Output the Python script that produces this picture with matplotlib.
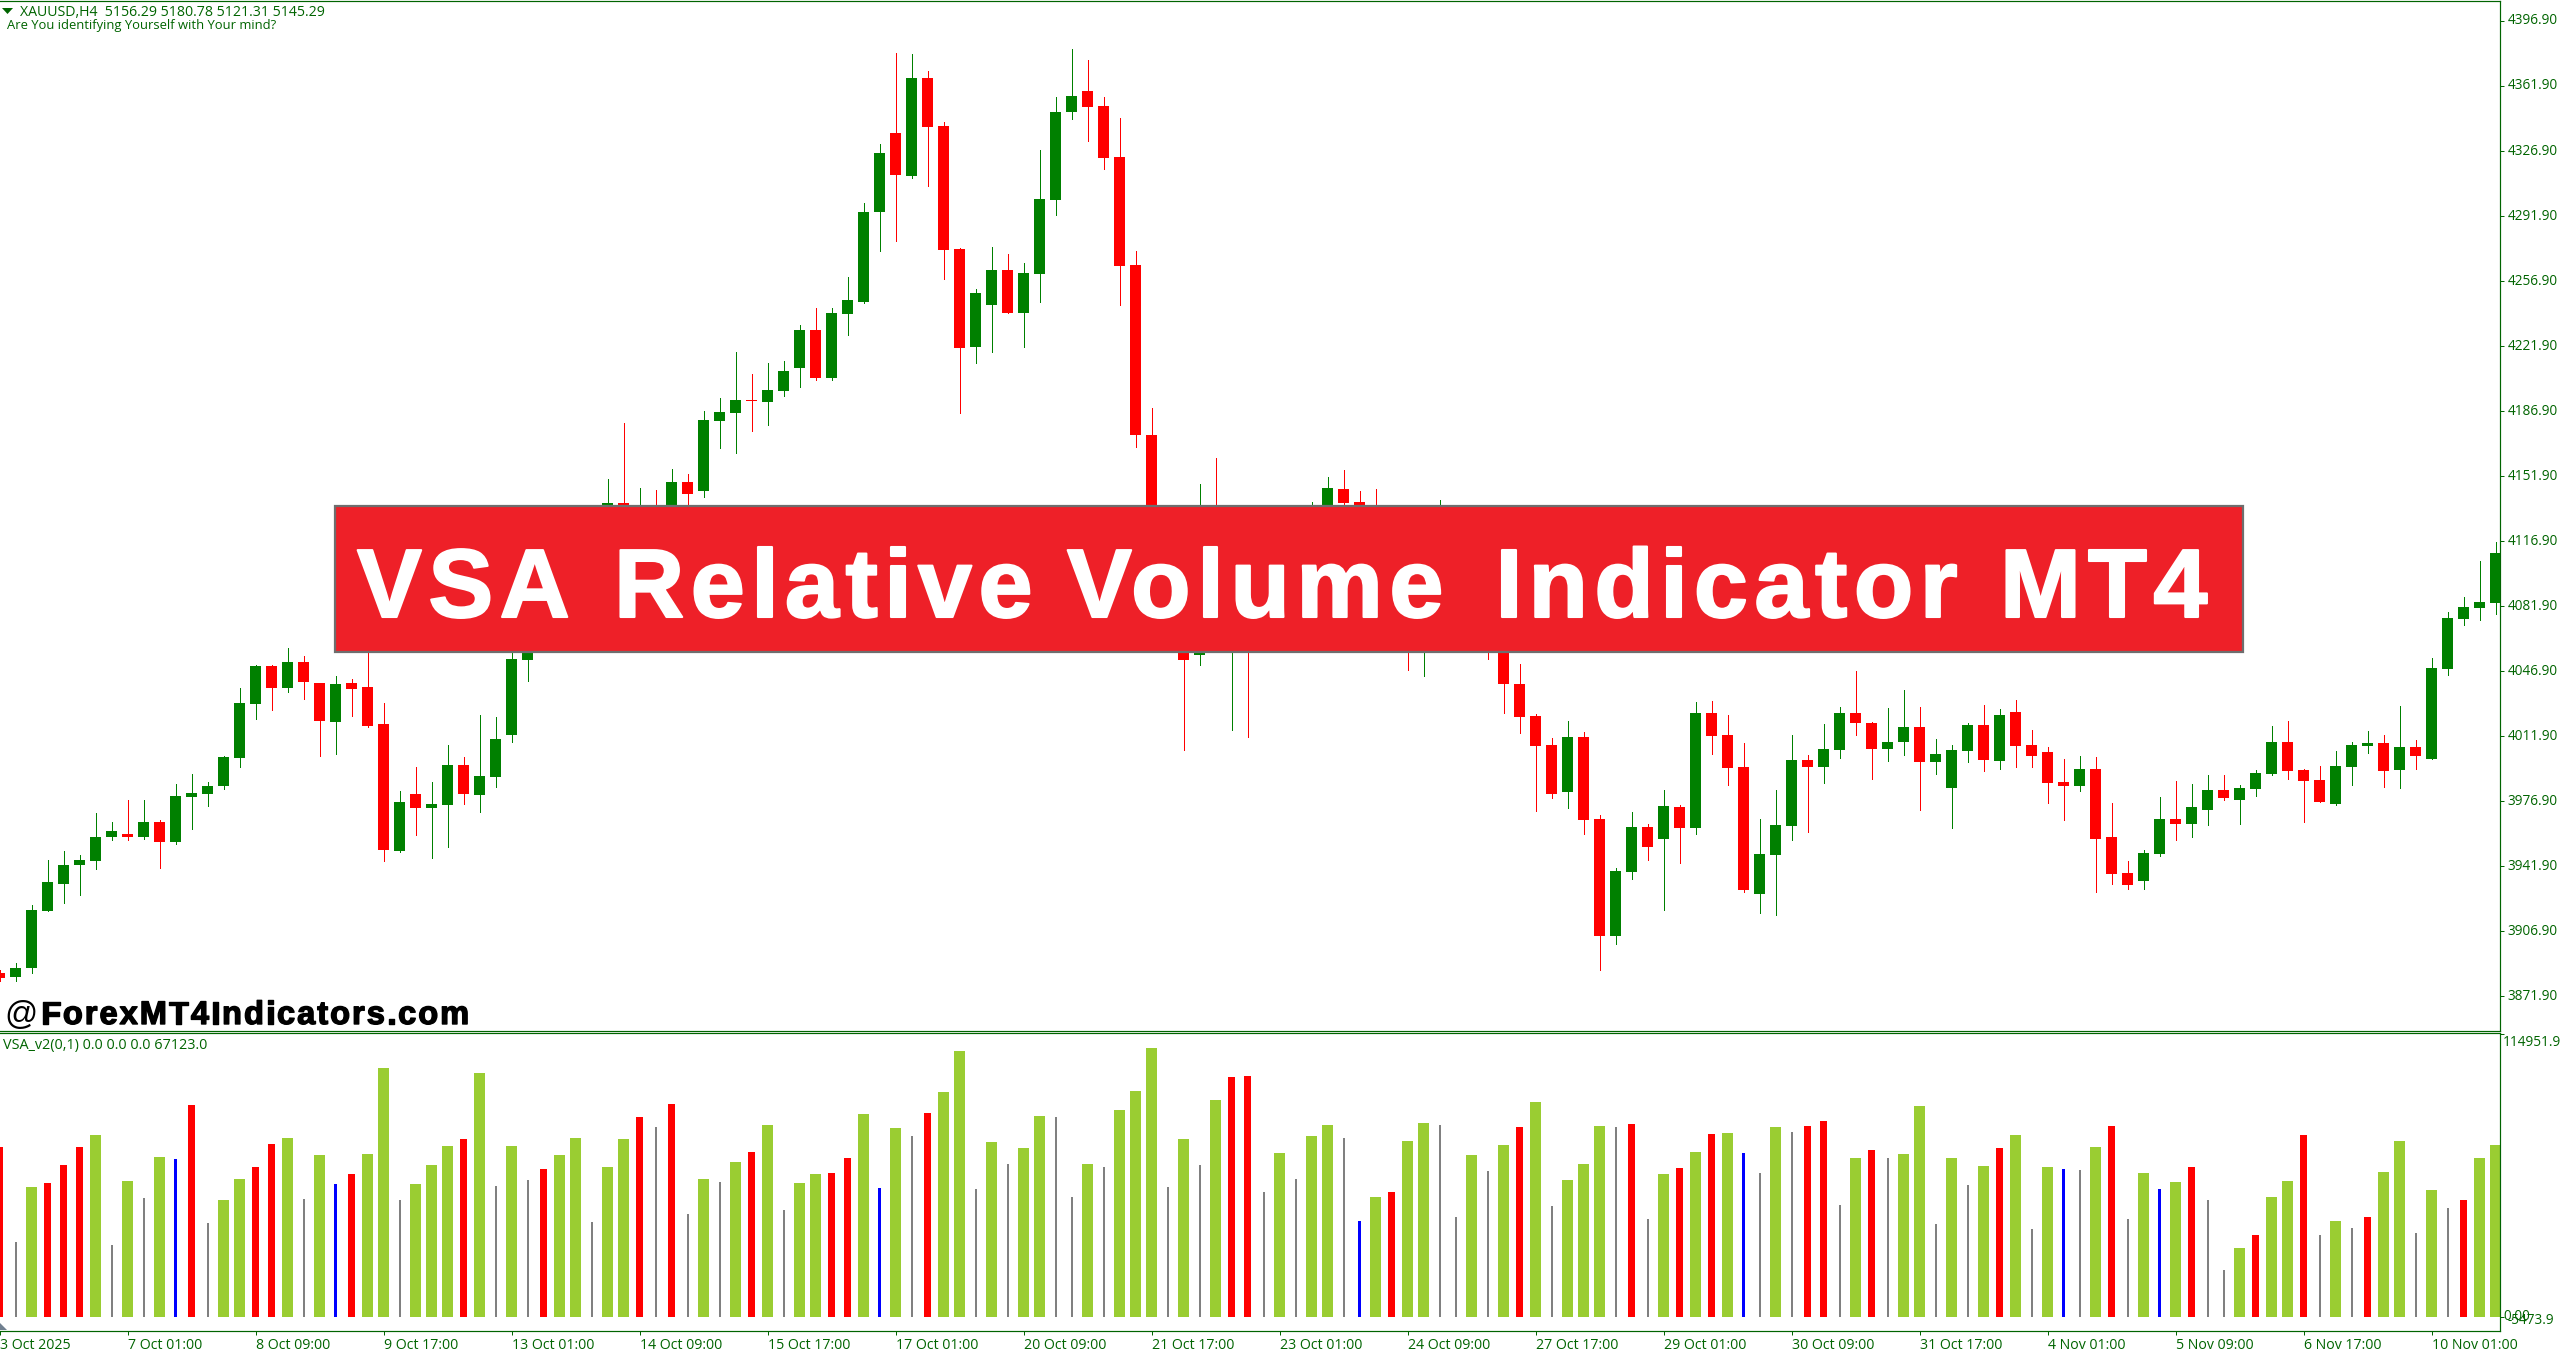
import matplotlib
matplotlib.use("Agg")
import matplotlib.pyplot as plt
import matplotlib.patheffects as pe
from matplotlib.font_manager import FontProperties
from matplotlib.patches import Rectangle, Polygon
import numpy as np

open_ = [3884.3,3882.2,3887.0,3917.7,3932.7,3942.4,3944.6,3958.0,3959.6,3958.0,
3965.6,3954.8,3979.0,3980.7,3985.0,4000.0,4029.1,4049.6,4037.7,4051.7,
4040.4,4019.5,4040.4,4038.3,4018.4,3950.0,3980.7,3973.1,3974.7,3996.3,
3980.1,3989.8,4012.4,4052.8,4079.7,4095.9,4106.7,4125.5,4122.8,4137.4,
4123.9,4132.5,4130.9,4148.7,4143.8,4181.5,4185.8,4192.8,4191.7,4197.7,
4210.1,4230.5,4204.7,4239.1,4245.6,4294.0,4336.6,4313.4,4366.2,4340.4,
4274.1,4221.4,4244.0,4262.8,4239.7,4260.7,4300.5,4347.9,4359.2,4351.1,
4323.7,4265.5,4174.0,4109.4,4082.4,4055.5,4106.7,4063.6,4090.5,4074.4,
4093.2,4114.7,4122.8,4130.9,4144.9,4137.9,4125.5,4117.4,4106.7,4079.7,
4095.9,4109.4,4093.2,4077.0,4066.3,4039.9,4022.7,4007.0,3981.8,4011.4,
3967.2,3904.7,3938.7,3962.9,3956.4,3973.7,3962.4,4024.3,4012.4,3995.2,
3926.8,3947.8,3963.4,3999.0,3995.2,4004.3,4024.3,4018.9,4004.9,4008.7,
4016.8,3997.9,3983.9,4003.8,4017.8,3998.4,4024.8,4007.0,4003.3,3987.1,
3985.0,3994.1,3957.5,3938.1,3933.8,3948.4,3967.2,3964.5,3972.0,3982.8,
3977.9,3983.4,3991.4,4008.7,3993.6,3988.2,3975.3,3995.2,4006.5,4008.1,
3993.6,4006.0,3999.5,4048.0,4074.9,4080.8,4083.5]

high = [3885.9,3889.7,3921.4,3945.6,3950.0,3947.8,3970.4,3965.6,3977.9,3977.4,
3966.7,3986.0,3991.4,3987.1,4001.1,4037.7,4050.1,4050.1,4059.3,4054.9,
4040.4,4044.2,4042.6,4075.0,4029.7,3982.3,3995.2,3987.1,4007.0,4000.6,
4023.2,4022.1,4063.6,4090.5,4106.7,4114.7,4128.2,4133.6,4150.3,4180.4,
4145.4,4144.4,4155.7,4153.0,4186.9,4193.9,4218.7,4206.8,4212.7,4213.8,
4233.2,4242.4,4242.4,4259.1,4298.9,4330.7,4379.7,4379.1,4370.0,4342.5,
4274.7,4252.6,4275.2,4271.4,4266.6,4327.4,4356.0,4381.8,4375.9,4356.0,
4344.7,4273.0,4188.5,4117.4,4090.5,4147.6,4161.6,4122.8,4109.4,4112.0,
4125.5,4130.9,4137.9,4151.4,4155.1,4143.8,4144.9,4125.5,4122.8,4117.4,
4139.0,4120.1,4098.6,4082.4,4074.4,4050.7,4023.8,4010.8,4020.0,4014.0,
3969.4,3940.8,3971.0,3964.5,3982.8,3974.7,4030.2,4030.7,4023.2,4008.1,
3967.2,3982.8,4012.4,4001.7,4018.4,4027.5,4046.9,4019.5,4027.0,4036.7,
4027.5,4010.3,4007.0,4018.9,4028.6,4026.4,4031.3,4015.1,4006.0,3999.5,
4001.1,4000.6,3975.8,3944.6,3951.0,3979.0,3987.7,3986.0,3990.9,3990.9,
3985.5,3993.6,4017.3,4020.0,3994.1,3995.7,4003.8,4008.7,4014.6,4012.4,
4028.1,4009.8,4053.9,4078.6,4086.7,4106.1,4116.4]

low = [3880.5,3880.0,3884.3,3917.7,3922.0,3926.3,3940.3,3955.9,3955.9,3956.9,
3940.8,3953.7,3961.8,3974.2,3983.4,3995.2,4021.1,4025.9,4035.6,4031.8,
4001.1,4002.2,4022.7,4016.8,3944.6,3949.4,3958.6,3946.7,3952.1,3975.3,
3971.0,3984.4,4008.7,4041.5,4074.4,4090.5,4101.3,4109.4,4117.4,4117.4,
4120.1,4122.8,4125.5,4132.5,4140.6,4167.0,4164.3,4176.1,4179.3,4195.0,
4199.8,4203.6,4203.6,4227.8,4245.1,4273.0,4278.4,4312.4,4308.0,4258.0,
4185.8,4212.7,4218.7,4239.7,4221.4,4245.6,4292.4,4344.1,4332.3,4317.2,
4244.0,4167.5,4101.3,4063.6,4004.3,4050.1,4071.7,4015.1,4011.4,4063.6,
4085.1,4106.7,4117.4,4128.2,4132.5,4114.7,4106.7,4095.9,4047.4,4044.2,
4090.5,4085.1,4066.3,4053.4,4024.3,4013.5,3971.5,3978.5,3973.1,3959.1,
3886.4,3899.9,3934.9,3945.1,3918.2,3944.0,3959.6,4002.2,3985.5,3927.9,
3917.1,3915.5,3955.9,3960.2,3986.6,4000.0,4012.4,3988.7,3998.4,4001.7,
3972.0,3991.4,3962.4,3997.9,3993.0,3994.1,3995.2,3995.2,3975.8,3966.7,
3982.3,3928.4,3932.2,3930.0,3929.5,3947.3,3955.9,3957.5,3964.0,3977.4,
3964.5,3979.6,3990.9,3988.7,3965.6,3976.4,3974.7,3985.5,4002.7,3984.4,
3983.9,3994.1,3999.5,4044.7,4071.7,4074.4,4077.6]

close = [3881.6,3887.0,3918.2,3933.3,3942.9,3945.1,3958.0,3961.2,3958.0,3965.6,
3954.8,3979.6,3981.2,3985.0,4000.6,4029.7,4049.6,4037.7,4051.7,4041.0,
4020.0,4039.9,4037.2,4017.3,3950.5,3976.4,3973.1,3975.3,3996.3,3980.7,
3990.3,4010.3,4053.4,4082.4,4098.6,4109.4,4122.8,4114.7,4137.4,4122.8,
4133.6,4125.5,4148.7,4142.2,4182.0,4186.3,4192.8,4192.3,4198.2,4208.4,
4230.5,4204.7,4239.7,4246.7,4294.0,4325.8,4314.0,4366.2,4339.8,4273.6,
4220.8,4250.4,4262.8,4239.7,4261.2,4301.0,4347.9,4356.5,4350.6,4323.1,
4265.0,4174.0,4106.7,4079.7,4052.8,4079.7,4077.0,4090.5,4063.6,4095.9,
4117.4,4125.5,4130.9,4145.4,4137.4,4122.8,4114.7,4104.0,4085.1,4098.6,
4106.7,4090.5,4074.4,4063.6,4039.9,4022.1,4006.5,3980.7,4011.4,3966.7,
3904.7,3939.2,3962.9,3952.1,3974.2,3962.4,4024.3,4011.9,3994.7,3929.0,
3948.4,3964.0,3999.0,3995.2,4004.9,4024.3,4018.9,4004.9,4008.7,4016.8,
3997.9,4002.2,4004.3,4017.8,3999.0,4023.2,4006.5,4001.1,3986.6,3985.0,
3994.1,3956.9,3937.6,3931.7,3948.9,3967.2,3964.5,3973.7,3982.8,3978.5,
3983.9,3992.0,4008.7,3993.0,3987.7,3976.4,3995.7,4007.0,4008.1,3993.0,
4006.0,4001.1,4048.5,4075.4,4081.3,4084.0,4110.4]

volume = [69156,30510,52884,54511,61834,69156,74038,29290,55325,48409,
65088,64274,86242,38239,47596,56138,61020,70376,72817,48002,
65902,54104,58172,66308,101293,47596,54104,61834,69563,72410,
99259,53291,69563,55732,60206,65902,72817,38646,61020,72410,
81360,77292,86648,41900,56138,54918,63054,67122,78106,43528,
54511,58172,58579,64681,82580,52477,76885,73631,82987,91530,
108209,52070,71190,62240,68749,81767,81360,48816,62240,61020,
84208,91937,109429,52884,72410,61834,88276,97632,98039,50850,
66715,56138,73631,78106,72817,39053,48816,50850,71597,78919,
78106,40680,65902,59393,69970,77292,87462,45155,55732,62240,
77699,77292,78512,39866,58172,60613,67122,74444,74851,66715,
58579,77292,75258,77699,79733,45562,64681,67936,64681,66308,
85835,37832,64681,53698,61427,68749,74038,35798,61020,60206,
59800,69156,77699,39866,58579,52070,54918,61020,47596,19120,
28069,33358,48816,55325,74038,33358,39053,36205,40680,58986,
71597,34171,51664,44341,47596,64681,69970]

volume_class = ("rkgrrrgkgk" "gbrkggrrgk" "gbrggkgggr" "gkgkrggkgg" "rkrkgkgrgk"
                "ggrrgbgkrg" "gkgkggkkgk" "gggkgkgrrk" "gkggkbgrgg" "kkgkgrgkgg"
                "gkrkgrgrgb" "kgkrrkgrkg" "gkgkgrgkgb" "kgrkgbgrkk" "grggrkgkrg"
                "gkgkrgg")

price_ticks = [4396.9,4361.9,4326.9,4291.9,4256.9,4221.9,4186.9,4151.9,4116.9,
               4081.9,4046.9,4011.9,3976.9,3941.9,3906.9,3871.9]
date_labels = ["3 Oct 2025","7 Oct 01:00","8 Oct 09:00","9 Oct 17:00","13 Oct 01:00",
               "14 Oct 09:00","15 Oct 17:00","17 Oct 01:00","20 Oct 09:00","21 Oct 17:00",
               "23 Oct 01:00","24 Oct 09:00","27 Oct 17:00","29 Oct 01:00","30 Oct 09:00",
               "31 Oct 17:00","4 Nov 01:00","5 Nov 09:00","6 Nov 17:00","10 Nov 01:00"]

W, H = 2561, 1353
AX = "#006400"
LABEL_FONT = ["Open Sans", "DejaVu Sans"]
PX = 0.72

fig = plt.figure(figsize=(W / 100, H / 100), dpi=100, facecolor="white")

def axes_px(x0, y0, x1, y1, **kw):
    return fig.add_axes([x0 / W, 1 - y1 / H, (x1 - x0) / W, (y1 - y0) / H], **kw)

ax1 = axes_px(0, 0.5, 2499.5, 1030.5)
ax2 = axes_px(0, 1032.5, 2499.5, 1330.5)
xlim = (0.03125, 156.25)
x = np.arange(len(close))
o, h, l, c = map(np.array, (open_, high, low, close))
up = c >= o
col = np.where(up, "#008000", "#FF0000")

ax1.vlines(x, l, h, colors=col, lw=PX, antialiased=False)
ax1.bar(x, np.maximum(np.abs(c - o), 0.5), bottom=np.minimum(o, c), width=11 / 16,
        color=col, lw=0, antialiased=False, zorder=3)
ax1.set_xlim(xlim)
ax1.set_ylim(3853.6, 4407.9)
ax1.set_yticks(price_ticks)
ax1.set_yticklabels([f"{v:.2f}" for v in price_ticks])
ax1.set_xticks([])

styles = {"g": ("#9ACD32", 11), "r": ("#FF0000", 7), "b": ("#0000FF", 3), "k": ("#808080", 2)}
for key, (color, width) in styles.items():
    sel = [i for i, k in enumerate(volume_class) if k == key]
    ax2.bar(sel, [volume[i] for i in sel], width=width / 16, color=color, lw=0,
            antialiased=False)
ax2.set_xlim(xlim)
per_px = (114951.9 + 5473.9) / (1330 - 1034)
ax2.set_ylim(-5473.9 - 0.5 * per_px, 114951.9 + 1.5 * per_px)
ax2.set_yticks([114951.9, 0])
ax2.set_yticklabels([])
ax2.set_xticks(np.arange(0, 157, 8))
ax2.set_xticklabels(date_labels, ha="left", fontfamily=LABEL_FONT, fontsize=10.2)

for ax in (ax1, ax2):
    ax.set_facecolor("white")
    ax.yaxis.tick_right()
    ax.spines["left"].set_visible(False)
    for s in ("top", "right", "bottom"):
        ax.spines[s].set_color(AX)
        ax.spines[s].set_linewidth(PX * 1.2)
    ax.tick_params(axis="both", direction="out", length=2.6, width=PX, color=AX,
                   labelcolor=AX, pad=3.0)
    for t in ax.get_yticklabels():
        t.set_fontfamily(LABEL_FONT)
        t.set_fontsize(9.8)
        t.set_va("center")

# overlay in pixel coordinates for the texts and the banner
ov = fig.add_axes([0, 0, 1, 1], zorder=10)
ov.set_xlim(0, W)
ov.set_ylim(H, 0)
ov.axis("off")
ov.patch.set_alpha(0)

def label(px, py, s, size=9.8, **kw):
    ov.text(px, py, s, color=AX, family=LABEL_FONT, fontsize=size, va="center", **kw)

def spaced(px, py, s, spacing, size, color, family="Liberation Sans", stroke=0.0, zorder=5):
    """Write s one character at a time with extra letter spacing, so it stays real text."""
    prop = FontProperties(family=family, weight="bold", size=size)
    renderer = fig.canvas.get_renderer()
    effects = [pe.withStroke(linewidth=stroke, foreground=color)] if stroke else None
    for n, ch in enumerate(s):
        adv = renderer.get_text_width_height_descent(s[:n + 1], prop, False)[0]
        own = renderer.get_text_width_height_descent(ch, prop, False)[0]
        ov.text(px + adv - own + n * spacing, py, ch, color=color, fontproperties=prop,
                va="baseline", path_effects=effects, zorder=zorder)

ov.add_patch(Polygon([(2, 8), (13, 8), (7.5, 14)], closed=True, fc=AX, ec="none"))
label(20, 12, "XAUUSD,H4  5156.29 5180.78 5121.31 5145.29", size=10.2)
label(7, 25, "Are You identifying Yourself with Your mind?", size=9.4)
label(3, 1046, "VSA_v2(0,1) 0.0 0.0 0.0 67123.0", size=10.4)
label(2503, 1043, "114951.9")
label(2508, 1321, "-5473.9")
label(2503, 1316, "0.00")
ov.add_patch(Polygon([(0, 1323), (7, 1330), (0, 1330)], closed=True, fc="#708090", ec="none"))

ov.text(4, 1024, "@", color="black", family="Liberation Sans", fontsize=23.5, va="baseline")
spaced(41, 1024, "ForexMT4Indicators.com", 2.0, 23.5, "black", stroke=1.0)

ov.add_patch(Rectangle((335, 506), 1908, 146, fc="#EE2028", ec="#6E6E6E", lw=1.6, zorder=4))
for px, word in [(357, "VSA"), (614, "Relative"), (1067, "Volume"), (1495, "Indicator"), (2000, "MT4")]:
    spaced(px, 617, word, 6.5, 70, "white", stroke=1.5)

fig.savefig("out.png", dpi=100, facecolor="white")
